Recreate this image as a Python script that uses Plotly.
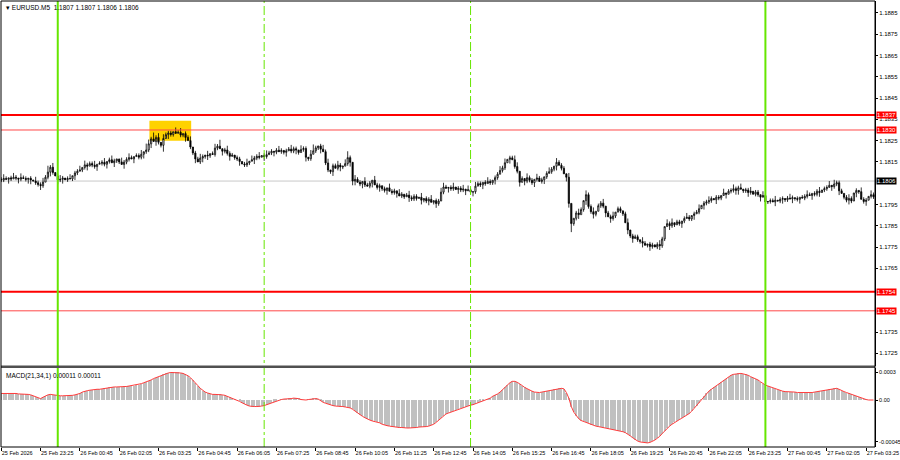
import plotly.graph_objects as go

# EURUSD M5, first bar 25 Feb 22:05 ; closes in pips above 1.1700, one row per hour
CLOSE_ROWS = [
    [106.5, 107.2, 106.8, 107.5, 107.0, 107.8, 107.4, 106.9, 107.6, 107.2, 106.8, 107.3],
    [106.5, 106.0, 105.2, 104.4, 103.8, 105.5, 107.8, 110.2, 112.5, 110.0, 108.4, 106.5],
    [106.8, 107.4, 106.6, 107.2, 107.0, 108.5, 109.8, 110.6, 111.2, 112.4, 113.6, 113.0],
    [114.2, 113.5, 112.8, 113.9, 114.3, 114.8, 113.9, 115.2, 116.0, 114.6, 115.5, 116.4],
    [115.0, 113.8, 114.9, 116.2, 117.0, 116.4, 117.5, 118.0, 117.2, 118.6, 119.8, 120.6],
    [123.5, 125.8, 124.6, 126.5, 124.2, 122.8, 126.0, 127.8, 128.6, 127.9, 129.2, 128.4],
    [128.9, 127.6, 128.3, 126.5, 125.0, 122.0, 119.2, 116.4, 115.0, 116.8, 117.5, 118.2],
    [117.9, 118.9, 118.5, 121.5, 122.4, 121.2, 120.0, 120.6, 119.0, 117.6, 118.2, 117.0],
    [116.4, 115.2, 114.0, 113.6, 114.5, 115.3, 116.0, 116.8, 117.6, 117.2, 118.0, 117.5],
    [118.4, 119.2, 120.0, 119.6, 120.5, 119.8, 120.4, 119.5, 120.2, 121.0, 120.1, 121.2],
    [120.6, 119.4, 120.8, 121.3, 117.2, 116.5, 118.6, 120.2, 121.6, 122.5, 121.0, 119.8],
    [114.5, 111.2, 110.4, 113.2, 112.0, 113.5, 112.6, 113.0, 114.2, 117.0, 114.8, 106.0],
    [106.8, 105.4, 104.6, 105.8, 104.2, 103.6, 105.0, 106.4, 104.2, 103.0, 103.8, 102.4],
    [101.6, 102.8, 101.2, 100.6, 101.4, 100.2, 99.0, 99.8, 98.6, 99.4, 98.2, 97.6],
    [98.8, 97.8, 98.4, 97.0, 97.8, 96.6, 97.4, 96.0, 96.8, 95.4, 96.6, 100.8],
    [103.2, 102.6, 103.0, 102.4, 103.2, 102.0, 102.6, 101.8, 102.2, 101.4, 101.9, 100.8],
    [101.0, 103.6, 104.8, 104.2, 105.4, 104.8, 105.8, 105.2, 106.4, 107.6, 109.2, 111.0],
    [112.2, 114.6, 116.2, 116.9, 116.0, 112.8, 110.6, 105.4, 107.2, 106.0, 107.6, 106.4],
    [105.2, 106.8, 107.4, 105.8, 106.6, 108.0, 109.6, 110.4, 111.6, 113.0, 114.8, 113.4],
    [112.0, 109.4, 107.8, 95.5, 86.0, 88.5, 91.0, 90.2, 92.6, 96.8, 99.6, 94.0],
    [91.6, 90.4, 91.8, 94.4, 95.6, 94.2, 91.0, 89.2, 88.4, 89.6, 91.4, 93.0],
    [92.0, 90.6, 86.4, 83.0, 80.2, 79.0, 79.8, 78.4, 77.6, 76.8, 75.8, 76.4],
    [75.2, 76.0, 75.0, 76.2, 75.6, 78.8, 84.6, 86.0, 85.0, 86.4, 85.4, 86.8],
    [86.0, 87.2, 88.4, 89.0, 88.2, 89.8, 90.6, 91.4, 93.0, 94.6, 95.6, 96.2],
    [96.8, 97.8, 97.2, 98.4, 98.0, 99.2, 100.4, 99.8, 101.2, 101.6, 102.4, 101.6],
    [102.8, 102.2, 101.4, 101.8, 100.6, 101.2, 99.8, 100.8, 99.6, 98.4, 99.2, 96.2],
    [96.4, 96.8, 96.2, 97.0, 96.6, 97.4, 97.8, 97.2, 98.0, 97.6, 98.2, 97.8],
    [97.4, 98.4, 98.0, 98.8, 99.6, 99.2, 100.2, 99.8, 101.2, 100.6, 101.8, 102.4],
    [103.0, 104.0, 103.4, 104.6, 105.2, 101.4, 100.2, 98.4, 97.0, 97.8, 96.6, 100.4],
    [101.6, 101.0, 97.4, 96.4, 97.0, 98.8, 99.6, 98.6],
]
FIRST_OPEN = 106.8

# wicks beyond the body, in pips, one digit per bar
WICK_HI_ROWS = [
    "121012102110", "102112131201", "210120112021", "112011201210", "021121011203",
    "213120211102", "120112011210", "201213012110", "110120211201", "211012101121",
    "102110231012", "120112102310", "211021102110", "102110210121", "110201120112",
    "210120112021", "021101210112", "120112201021", "102110121021", "110200121021",
    "120112011201", "101201110210", "110121021201", "101210112011", "210110201121",
    "120112011021", "011201101210", "101121011201", "120211101210", "10211021",
]
WICK_LO_ROWS = [
    "110210121012", "201121012102", "120101210112", "011201121021", "102110201121",
    "120211302110", "011201120121", "210110211201", "120111021102", "101210112011",
    "210121101120", "111201210122", "201210120121", "120112011021", "110211201210",
    "102110211201", "210121011210", "110201120211", "121012101120", "102241120121",
    "121011202110", "110212011201", "210121102110", "121011201021", "110211020112",
    "201121011202", "110201211021", "120110211201", "102112011210", "21012011",
]

# MACD(21,34,1) main = signal, units of 0.00001
MACD_ROWS = [
    [7, 7, 7.5, 7.5, 7, 7, 7, 6.5, 6.5, 6.5, 6.5, 6],
    [5.5, 4.5, 3, 2, 1.5, 3, 4.5, 5.5, 6, 5.5, 5, 4.5],
    [4.5, 4.5, 4.5, 4.5, 5, 5, 5.5, 6, 7, 8.5, 9.5, 10],
    [10.5, 11, 11, 11.5, 11.5, 12, 12.5, 13, 13.5, 13.5, 14, 14],
    [14, 14, 14.5, 14.5, 15, 15.5, 15.5, 16, 16.5, 17.5, 18.5, 19.5],
    [20, 21.5, 23, 24, 25, 26, 27.5, 28.5, 29, 29.5, 29.5, 29.5],
    [29.5, 29, 28.5, 27.5, 26, 24, 21.5, 18.5, 15.5, 12.5, 10, 8.5],
    [7.5, 6.5, 6, 6, 6, 6, 5.5, 5, 4, 3, 2, 1],
    [0, -1.5, -3, -4.5, -5.5, -6.5, -7, -7, -7, -7, -6.5, -6],
    [-5, -4, -3, -2, -1, 0, 0.5, 1, 1, 1.5, 1.5, 2],
    [2, 1.5, 0.5, 0, 0, 0.5, 1, 1.5, 1.5, 1, -1, -2.5],
    [-3.5, -4.5, -5.5, -6, -6.5, -6.5, -7, -7, -7.5, -8, -8.5, -10],
    [-12, -14, -16, -17.5, -19, -20.5, -21.5, -22.5, -23, -23.5, -24.5, -26],
    [-27, -27.5, -28, -28.5, -29, -29, -29.5, -29.5, -30, -30, -30, -30],
    [-29.5, -29.5, -29, -29, -28.5, -28.5, -28, -27, -26, -24, -21.5, -19],
    [-17, -15, -14, -13, -12, -11, -10, -9, -8.5, -7.5, -6.5, -5.5],
    [-5, -4, -3, -2, -1, 0, 1, 2, 4, 5, 6.5, 8.5],
    [11, 14, 16.5, 18.5, 20, 20, 19, 17.5, 15.5, 13.5, 12, 10.5],
    [9.5, 8.5, 8, 8, 8.5, 9, 9.5, 10, 11, 11.5, 12, 12.5],
    [12.5, 12, 8, 2, -7, -13, -17, -20, -22, -23, -24, -25],
    [-26.5, -27, -28, -28.5, -29, -29.5, -30, -31, -31.5, -32, -32.5, -33],
    [-33, -34, -35, -36.5, -38.5, -40.5, -42.5, -44, -45, -45.5, -46, -46],
    [-45.5, -44.5, -43, -41, -39, -36, -33, -30.5, -28, -26, -24, -22.5],
    [-21, -19.5, -18, -16.5, -14.5, -12, -9, -6, -3, 0.5, 4, 7],
    [9.5, 11.5, 13.5, 15, 17, 19, 21, 23, 25, 26.5, 27.5, 28],
    [28.5, 28.5, 28, 27.5, 26.5, 25, 24, 23, 21.5, 19.5, 17.5, 16],
    [15, 14, 13, 12, 11, 10.5, 9.5, 9, 9, 8.5, 8.5, 8.5],
    [8, 8, 8, 7.5, 7.5, 7.5, 8, 8.5, 9, 9.5, 10, 10.5],
    [11, 11.5, 12, 12.5, 12.5, 11.5, 10, 9, 8, 7, 6, 5],
    [4, 3, 2, 1, 0.5, 0, 0, 0],
]

TIME_LABELS = [
    "25 Feb 2026", "25 Feb 23:25", "26 Feb 00:45", "26 Feb 02:05", "26 Feb 03:25",
    "26 Feb 04:45", "26 Feb 06:05", "26 Feb 07:25", "26 Feb 08:45", "26 Feb 10:05",
    "26 Feb 11:25", "26 Feb 12:45", "26 Feb 14:05", "26 Feb 15:25", "26 Feb 16:45",
    "26 Feb 18:05", "26 Feb 19:25", "26 Feb 20:45", "26 Feb 22:05", "26 Feb 23:25",
    "27 Feb 00:45", "27 Feb 02:05", "27 Feb 03:25",
]
PRICE_TICKS = [1.1885, 1.1875, 1.1865, 1.1855, 1.1845, 1.1835, 1.1825, 1.1815,
               1.1795, 1.1785, 1.1775, 1.1765, 1.1735, 1.1725]
MACD_TICKS = [0.0003, 0.0, -0.00045]
MACD_TICK_TEXT = ["0.0003", "0.00", "-0.00045"]

STRONG_LEVELS = [1.1837, 1.1754]
WEAK_LEVELS = [1.1830, 1.1745]
BID = 1.1806
DAY_BREAKS = [23, 311]        # bar index of 26 Feb 00:00 and 27 Feb 00:00
SESSION_BREAKS = [107, 191]   # 26 Feb 07:00 and 14:00
BOX_BARS = (60.3, 77.3)
BOX_PRICES = (1.18249, 1.18343)

closes = [1.17 + v / 1e4 for row in CLOSE_ROWS for v in row]
opens = [1.17 + FIRST_OPEN / 1e4] + closes[:-1]
wick_hi = [int(c) * 0.0001 for row in WICK_HI_ROWS for c in row]
wick_lo = [int(c) * 0.0001 for row in WICK_LO_ROWS for c in row]
highs = [max(o, c) + w for o, c, w in zip(opens, closes, wick_hi)]
lows = [min(o, c) - w for o, c, w in zip(opens, closes, wick_lo)]
macd = [v / 1e5 for row in MACD_ROWS for v in row]
idx = list(range(len(closes)))
assert len(closes) == len(wick_hi) == len(wick_lo) == len(macd) == 356

FONT = "Liberation Sans"
fig = go.Figure()

fig.add_trace(go.Candlestick(
    x=idx, open=opens, high=highs, low=lows, close=closes,
    increasing=dict(line=dict(color="black", width=0.8), fillcolor="white"),
    decreasing=dict(line=dict(color="black", width=0.8), fillcolor="black"),
    whiskerwidth=0, xaxis="x", yaxis="y", showlegend=False, hoverinfo="skip"))

fig.add_trace(go.Bar(x=idx, y=macd, width=0.45, marker=dict(color="#c0c0c0", line=dict(width=0)),
                     xaxis="x", yaxis="y2", showlegend=False))
fig.add_trace(go.Scatter(x=idx, y=macd, mode="lines", line=dict(color="#ff3b3b", width=1),
                         xaxis="x", yaxis="y2", showlegend=False))

shapes = []
# highlight box behind the candles
shapes.append(dict(type="rect", xref="x", yref="y", x0=BOX_BARS[0], x1=BOX_BARS[1],
                   y0=BOX_PRICES[0], y1=BOX_PRICES[1], fillcolor="#ffd200",
                   line=dict(width=0), layer="below"))
shapes.append(dict(type="line", xref="paper", yref="y", x0=0, x1=1, y0=BID, y1=BID,
                   line=dict(color="#c8c8c8", width=1), layer="below"))
for lv in STRONG_LEVELS:
    shapes.append(dict(type="line", xref="paper", yref="y", x0=0, x1=1, y0=lv, y1=lv,
                       line=dict(color="#ff0000", width=2)))
for lv in WEAK_LEVELS:
    shapes.append(dict(type="line", xref="paper", yref="y", x0=0, x1=1, y0=lv, y1=lv,
                       line=dict(color="#ff4848", width=1)))
for b in DAY_BREAKS:
    shapes.append(dict(type="line", xref="x", yref="paper", x0=b, x1=b, y0=0, y1=1,
                       line=dict(color="#66e600", width=2)))
for b in SESSION_BREAKS:
    shapes.append(dict(type="line", xref="x", yref="paper", x0=b, x1=b, y0=0, y1=1,
                       line=dict(color="#66e600", width=1, dash="dashdot")))
# panel separator and frame
shapes.append(dict(type="rect", xref="paper", yref="paper", x0=0, x1=1, y0=0.1771, y1=0.1826,
                   fillcolor="#505050", line=dict(width=0)))
shapes.append(dict(type="rect", xref="paper", yref="paper", x0=0, x1=1, y0=0, y1=1,
                   line=dict(color="black", width=1)))

annotations = [
    dict(text="▾ EURUSD.M5  1.1807 1.1807 1.1806 1.1806", xref="paper", yref="paper",
         x=0, y=1, xanchor="left", yanchor="top", xshift=3, yshift=-1, showarrow=False,
         font=dict(family=FONT, size=6.5, color="black")),
    dict(text="MACD(21,34,1) 0.00011 0.00011", xref="paper", yref="paper",
         x=0, y=0.1771, xanchor="left", yanchor="top", xshift=3, yshift=-2, showarrow=False,
         font=dict(family=FONT, size=6.5, color="black")),
]
for lv, bg in [(STRONG_LEVELS[0], "#ff0000"), (WEAK_LEVELS[0], "#ff0000"),
               (STRONG_LEVELS[1], "#ff0000"), (WEAK_LEVELS[1], "#ff0000"), (BID, "black")]:
    annotations.append(dict(text=f"{lv:.4f}", xref="paper", yref="y", x=1, y=lv,
                            xanchor="left", yanchor="middle", xshift=1, showarrow=False,
                            bgcolor=bg, borderpad=0,
                            font=dict(family=FONT, size=6, color="white")))

fig.update_layout(
    width=900, height=460,
    margin=dict(l=1, r=25, t=1, b=13),
    paper_bgcolor="white", plot_bgcolor="white",
    font=dict(family=FONT, size=6, color="black"),
    bargap=0,
    shapes=shapes, annotations=annotations,
    xaxis=dict(range=[-0.1, 355.6], anchor="y2", rangeslider=dict(visible=False),
               showgrid=False, zeroline=False, automargin=False,
               tickvals=list(range(0, 353, 16)), ticktext=TIME_LABELS, tickangle=0,
               ticks="outside", ticklen=3, tickcolor="black",
               ticklabelposition="outside right", ticklabeloverflow="allow",
               tickfont=dict(family=FONT, size=5.5)),
    yaxis=dict(domain=[0.1826, 1], range=[1.171927, 1.189063], side="right",
               showgrid=False, zeroline=False, automargin=False, tickvals=PRICE_TICKS,
               tickformat=".4f", ticks="outside", ticklen=2, tickcolor="black",
               ticklabelstandoff=0,
               showline=True, linecolor="black", tickfont=dict(family=FONT, size=6)),
    yaxis2=dict(domain=[0, 0.1771], range=[-0.000504, 0.000343], side="right",
                showgrid=False, zeroline=False, automargin=False,
                tickvals=MACD_TICKS, ticktext=MACD_TICK_TEXT,
                ticks="outside", ticklen=2, tickcolor="black", ticklabelstandoff=0,
                showline=True, linecolor="black", tickfont=dict(family=FONT, size=5.5)),
)

fig.write_html("out.html", config={"displayModeBar": False},
               post_script="document.body.style.margin='0px';")
